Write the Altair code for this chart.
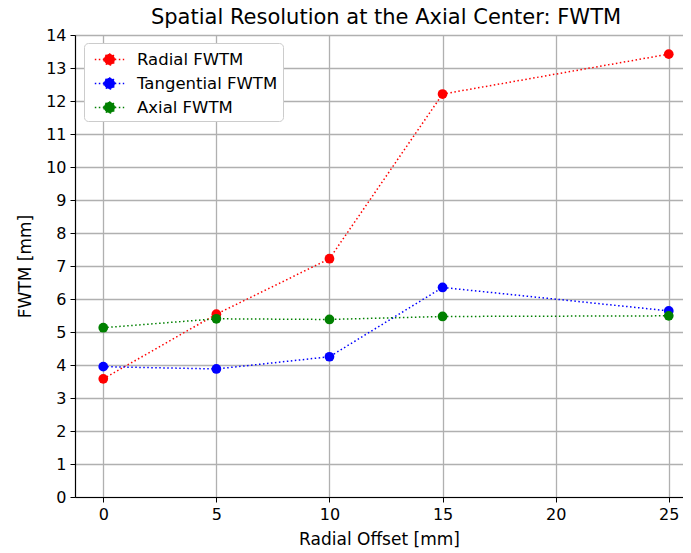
import altair as alt
import pandas as pd

offsets = [0, 5, 10, 15, 25]
radial = [3.58, 5.54, 7.22, 12.21, 13.42]
tangential = [3.95, 3.88, 4.25, 6.35, 5.64]
axial = [5.13, 5.40, 5.38, 5.47, 5.49]
series_names = ["Radial FWTM", "Tangential FWTM", "Axial FWTM"]
series_colors = ["#ff0000", "#0000ff", "#008000"]
x_ticks = [0, 5, 10, 15, 20, 25]
y_ticks = list(range(0, 15))

rows = []
for name, vals in zip(series_names, [radial, tangential, axial]):
    for x, v in zip(offsets, vals):
        rows.append({"offset": x, "fwtm": v, "series": name})
df = pd.DataFrame(rows)

font = "DejaVu Sans"

axis_common = dict(grid=True, format="d", labelFontSize=16, titleFontSize=17,
                   titleFont=font, labelFont=font, titleFontWeight="normal",
                   labelColor="black", titleColor="black", domainColor="black",
                   tickColor="black", tickSize=5, gridColor="#b0b0b0", gridWidth=1.3,
                   labelPadding=4, domainWidth=1.2)

xenc = alt.X("offset:Q", title="Radial Offset [mm]",
             scale=alt.Scale(domain=[-1.25, 25.63], nice=False, zero=False),
             axis=alt.Axis(values=x_ticks, titlePadding=9, **axis_common))
yenc = alt.Y("fwtm:Q", title="FWTM [mm]",
             scale=alt.Scale(domain=[0, 14], nice=False),
             axis=alt.Axis(values=y_ticks, titlePadding=11, **axis_common))

sym = "M-1.4,0 L1.4,0 M-0.52,0 A0.52,0.52 0 1,1 0.52,0 A0.52,0.52 0 1,1 -0.52,0 Z"
legend = alt.Legend(title=None, orient="none", legendX=9, legendY=8,
                    fillColor="white", strokeColor="#cccccc",
                    cornerRadius=4, padding=5,
                    symbolType=sym, symbolSize=441,
                    symbolStrokeWidth=1.5, symbolDash=[1.5, 2.5],
                    labelFontSize=16.5, labelFont=font,
                    labelColor="black", rowPadding=4,
                    labelOffset=16, symbolOffset=9)
color = alt.Color("series:N", scale=alt.Scale(domain=series_names, range=series_colors),
                  sort=series_names, legend=legend)

lines = alt.Chart(df).mark_line(strokeDash=[1.5, 2.5], strokeWidth=1.5).encode(
    x=xenc, y=yenc, color=color,
)

points = alt.Chart(df).mark_circle(size=95, opacity=1).encode(
    x=xenc, y=yenc, color=color,
)

chart = alt.layer(lines, points).properties(
    width=608, height=462,
    title=alt.Title("Spatial Resolution at the Axial Center: FWTM", fontSize=21,
                    font=font, fontWeight="normal", color="black", offset=-1, dx=7),
    autosize=alt.AutoSizeParams(type="none"),
    padding={"left": 67, "top": 27, "right": 0, "bottom": 56},
).configure_view(stroke="black", strokeWidth=1.2).configure(background="white")

chart.save("out.html", embed_options={"renderer": "svg", "actions": False})
